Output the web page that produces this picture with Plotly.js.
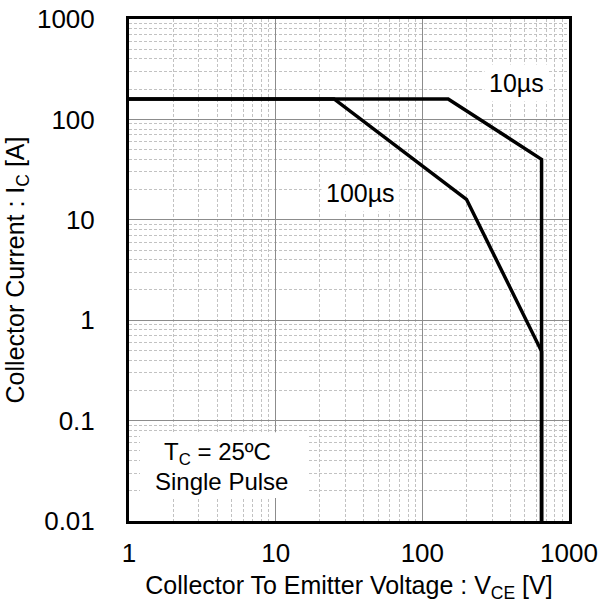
<!DOCTYPE html>
<html>
<head>
<meta charset="utf-8">
<script src="https://cdn.plot.ly/plotly-3.0.1.min.js"></script>
<style>body{margin:0;padding:0;background:#fff}#chart{width:603px;height:610px}</style>
</head>
<body>
<div id="chart"></div>
<script>
// Data
const x10us = [1, 150, 650, 650];
const y10us = [160, 160, 40, 0.01];
const x100us = [1, 25, 200, 650, 650];
const y100us = [160, 160, 16, 0.49, 0.01];
const xTickVals = [1, 10, 100, 1000];
const xTickText = ['1', '10', '100', '1000'];
const yTickVals = [0.01, 0.1, 1, 10, 100, 1000];
const yTickText = ['0.01', '0.1', '1', '10', '100', '1000'];

const lineStyle = {color: '#000', width: 3.5};
const traces = [
  {x: x10us, y: y10us, mode: 'lines', line: lineStyle, hoverinfo: 'skip', showlegend: false},
  {x: x100us, y: y100us, mode: 'lines', line: lineStyle, hoverinfo: 'skip', showlegend: false}
];

const fontFam = 'Liberation Sans, Arial, sans-serif';
const axisCommon = {
  type: 'log',
  showline: true, linecolor: '#000', linewidth: 3, mirror: true,
  showgrid: true, gridcolor: '#8c8c8c', gridwidth: 1,
  zeroline: false,
  ticks: '',
  tickfont: {family: fontFam, size: 26, color: '#000'},
  minor: {dtick: 'D1', showgrid: true, gridcolor: '#c2c2c2', gridwidth: 1, griddash: '3px,2px', ticks: ''}
};

const layout = {
  width: 603, height: 610,
  margin: {l: 129, r: 34, t: 19, b: 89},
  paper_bgcolor: '#fff', plot_bgcolor: '#fff',
  font: {family: fontFam, color: '#000'},
  xaxis: Object.assign({}, axisCommon, {
    range: [0, 3], tickmode: 'array', tickvals: xTickVals, ticktext: xTickText,
    ticklabelstandoff: 7,
    title: {text: 'Collector To Emitter Voltage : V<sub>CE</sub> [V]', font: {family: fontFam, size: 25, color: '#000'}, standoff: 10}
  }),
  yaxis: Object.assign({}, axisCommon, {
    range: [-2, 3], tickmode: 'array', tickvals: yTickVals, ticktext: yTickText,
    ticklabelstandoff: 26,
    title: {text: 'Collector Current : I<sub>C</sub> [A]', font: {family: fontFam, size: 25, color: '#000'}, standoff: 6}
  }),
  shapes: [
    {type: 'rect', xref: 'paper', yref: 'paper', x0: 0.025, x1: 0.407, y0: 0.046, y1: 0.177,
     fillcolor: '#fff', line: {width: 0}, layer: 'above'}
  ],
  annotations: [
    {xref: 'paper', yref: 'paper', x: 0.88, y: 0.8725, text: '10µs', showarrow: false,
     font: {family: fontFam, size: 25, color: '#000'}, bgcolor: '#fff', borderpad: 4, xanchor: 'center', yanchor: 'middle'},
    {xref: 'paper', yref: 'paper', x: 0.527, y: 0.653, text: '100µs', showarrow: false,
     font: {family: fontFam, size: 25, color: '#000'}, bgcolor: '#fff', borderpad: 4, xanchor: 'center', yanchor: 'middle'},
    {xref: 'paper', yref: 'paper', x: 0.2, y: 0.135, text: 'T<sub>C</sub> = 25ºC', showarrow: false,
     font: {family: fontFam, size: 24, color: '#000'}, xanchor: 'center', yanchor: 'middle'},
    {xref: 'paper', yref: 'paper', x: 0.211, y: 0.079, text: 'Single Pulse', showarrow: false,
     font: {family: fontFam, size: 24, color: '#000'}, xanchor: 'center', yanchor: 'middle'}
  ]
};

Plotly.newPlot('chart', traces, layout, {staticPlot: true, displayModeBar: false});
</script>
</body>
</html>
